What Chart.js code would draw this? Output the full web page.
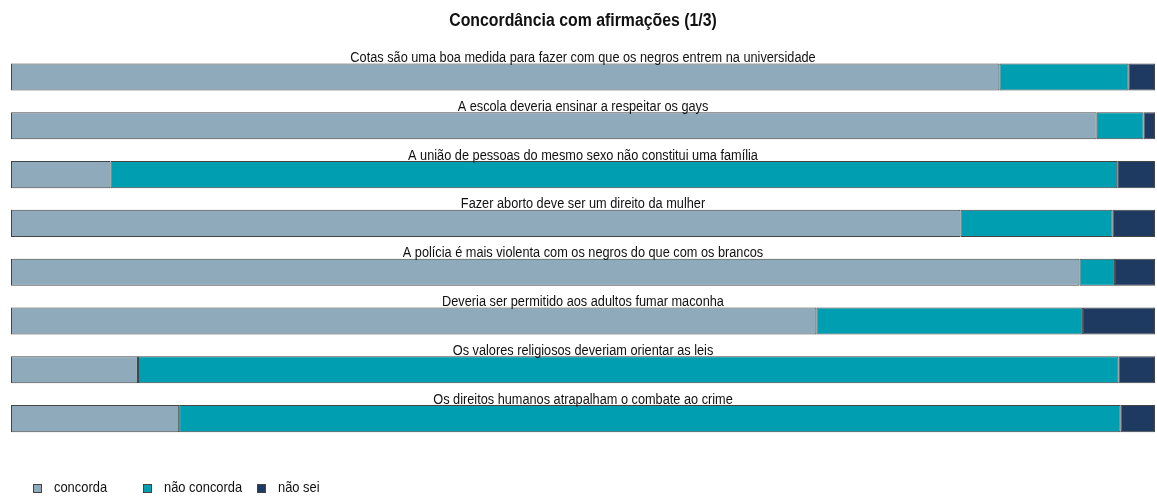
<!DOCTYPE html>
<html>
<head>
<meta charset="utf-8">
<script src="https://cdn.jsdelivr.net/npm/chart.js@4"></script>
<style>
html,body{margin:0;padding:0;background:#fff;}
#wrap{width:1157px;height:496px;position:relative;}
</style>
</head>
<body>
<div id="wrap"><canvas id="c" width="1157" height="496"></canvas></div>
<script>
const categories = [
  "Cotas são uma boa medida para fazer com que os negros entrem na universidade",
  "A escola deveria ensinar a respeitar os gays",
  "A união de pessoas do mesmo sexo não constitui uma família",
  "Fazer aborto deve ser um direito da mulher",
  "A polícia é mais violenta com os negros do que com os brancos",
  "Deveria ser permitido aos adultos fumar maconha",
  "Os valores religiosos deveriam orientar as leis",
  "Os direitos humanos atrapalham o combate ao crime"
];
const seriesNames = ["concorda", "não concorda", "não sei"];
const concorda    = [86.4, 94.9,  8.7, 83.0, 93.4, 70.4, 11.1, 14.7];
const naoConcorda = [11.3,  4.1, 88.0, 13.3,  3.1, 23.3, 85.7, 82.3];
const naoSei      = [ 2.3,  1.0,  3.3,  3.7,  3.5,  6.3,  3.2,  3.0];
const titleText = "Concordância com afirmações (1/3)";

const colors = ["#8fabbb", "#009eb1", "#1f3a60"];
const FONT = "'Liberation Sans', Arial, sans-serif";

function narrowText(ctx, text, x, y, font, sx, align, baseline) {
  ctx.save();
  ctx.font = font;
  ctx.textAlign = align;
  ctx.textBaseline = baseline;
  ctx.translate(x, y);
  ctx.scale(sx, 1);
  ctx.fillText(text, 0, 0);
  ctx.restore();
}

const titleAndLabels = {
  id: 'titleAndLabels',
  afterDatasetsDraw(chart) {
    const ctx = chart.ctx;
    const meta = chart.getDatasetMeta(0);
    const ca = chart.chartArea;
    const cx = (ca.left + ca.right) / 2;
    ctx.save();
    ctx.fillStyle = "#111";
    narrowText(ctx, titleText, cx, 21, "bold 18px " + FONT, 0.88, "center", "middle");
    meta.data.forEach((bar, i) => {
      const top = bar.y - bar.height / 2;
      narrowText(ctx, chart.data.labels[i], cx, top - 1.5, "14px " + FONT, 0.91, "center", "alphabetic");
    });
    ctx.restore();
  }
};

const customLegend = {
  id: 'customLegend',
  afterDraw(chart) {
    const ctx = chart.ctx;
    const boxX = [33, 143, 257];
    const y = 488;
    ctx.save();
    chart.data.datasets.forEach((ds, i) => {
      ctx.fillStyle = ds.backgroundColor;
      ctx.fillRect(boxX[i], y - 4, 9, 9);
      ctx.strokeStyle = "#444";
      ctx.lineWidth = 1;
      ctx.strokeRect(boxX[i] + 0.5, y - 3.5, 8, 8);
      ctx.fillStyle = "#111";
      narrowText(ctx, ds.label, boxX[i] + 21, y, "15px " + FONT, 0.86, "left", "middle");
    });
    ctx.restore();
  }
};

new Chart(document.getElementById('c'), {
  type: 'bar',
  data: {
    labels: categories,
    datasets: [
      { label: seriesNames[0], data: concorda, backgroundColor: colors[0] },
      { label: seriesNames[1], data: naoConcorda, backgroundColor: colors[1] },
      { label: seriesNames[2], data: naoSei, backgroundColor: colors[2] }
    ].map(d => Object.assign(d, {
      borderColor: "rgba(35,35,35,0.85)",
      borderWidth: 1,
      borderSkipped: false,
      categoryPercentage: 1,
      barPercentage: 0.555
    }))
  },
  options: {
    indexAxis: 'y',
    responsive: false,
    animation: false,
    layout: { padding: { left: 11, right: 2, top: 52.6, bottom: 53 } },
    scales: {
      x: { stacked: true, min: 0, max: 100, display: false },
      y: { stacked: true, display: false }
    },
    plugins: {
      legend: { display: false },
      tooltip: { enabled: false },
      title: { display: false }
    }
  },
  plugins: [titleAndLabels, customLegend]
});
</script>
</body>
</html>
